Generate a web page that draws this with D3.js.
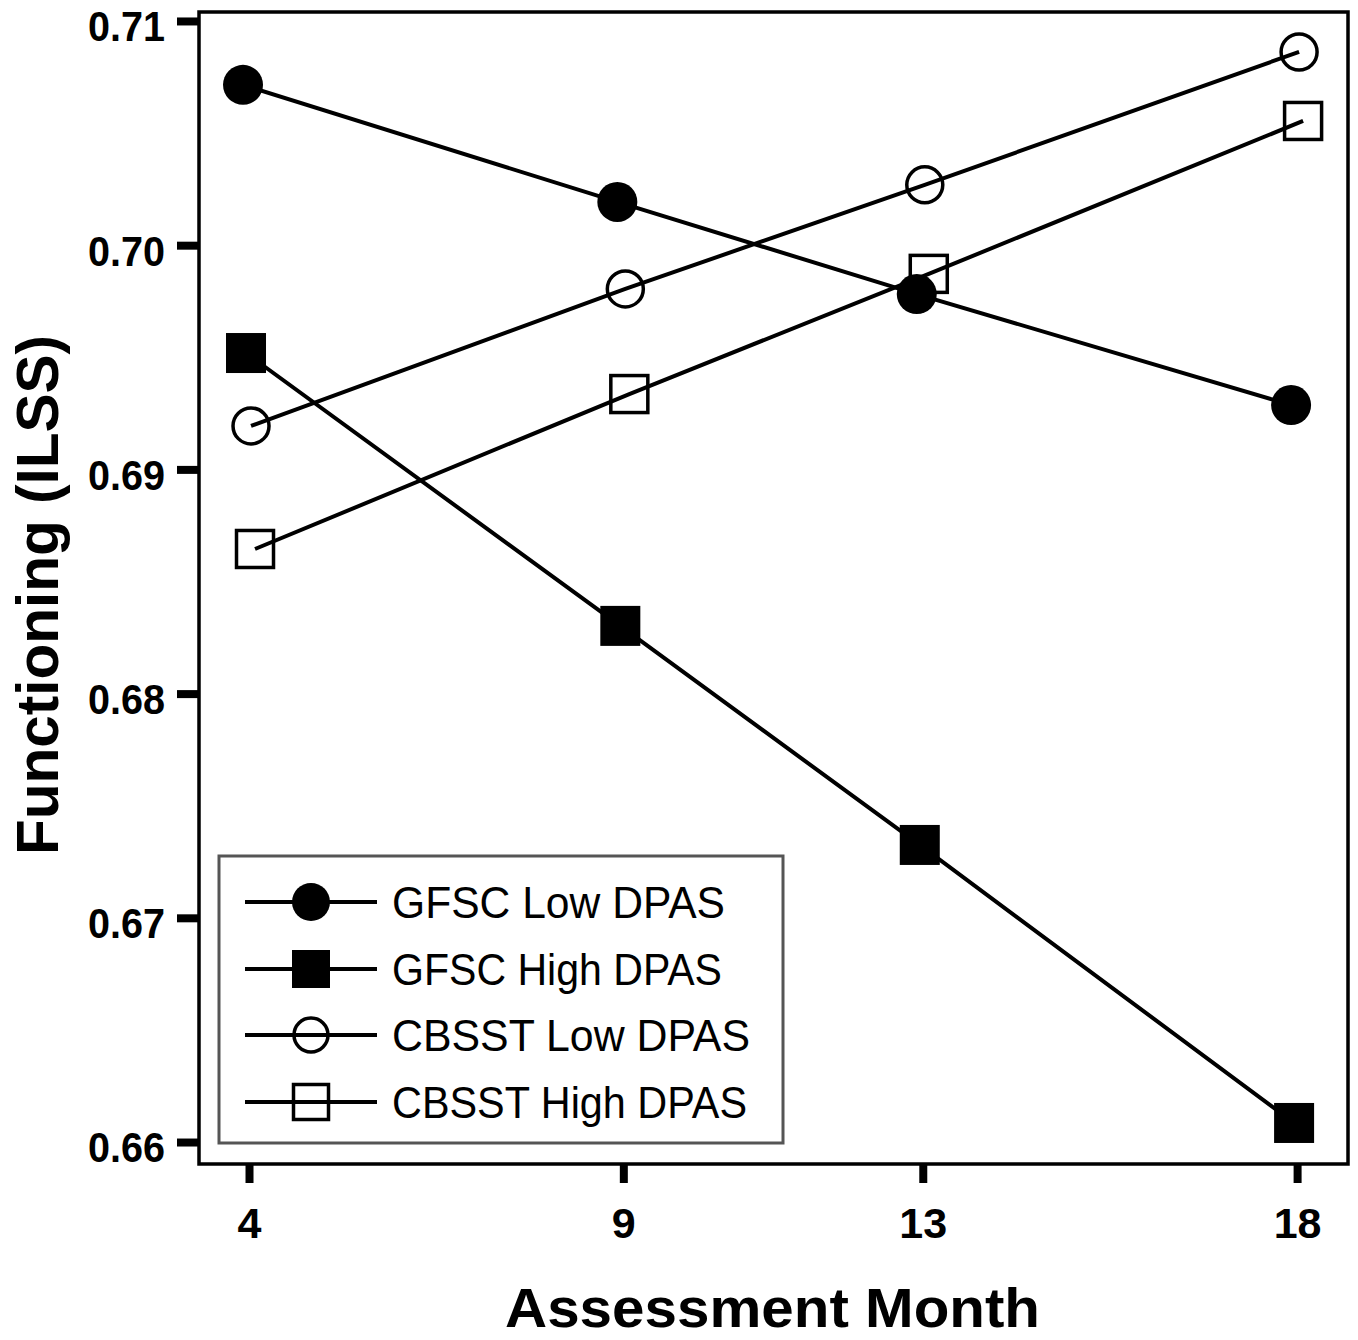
<!DOCTYPE html>
<html>
<head>
<meta charset="utf-8">
<script src="https://cdn.jsdelivr.net/npm/d3@7"></script>
<style>
  html, body { margin: 0; padding: 0; background: #fff; }
  svg { display: block; }
</style>
</head>
<body>
<svg id="chart" width="1358" height="1340"></svg>
<script>
// ---- data ----
const months = [4, 9, 13, 18];
const yTicks = [0.66, 0.67, 0.68, 0.69, 0.70, 0.71];
const seriesNames = ["GFSC Low DPAS", "GFSC High DPAS", "CBSST Low DPAS", "CBSST High DPAS"];
const gfscLow   = [0.70715, 0.70193, 0.69782, 0.69287];
const gfscHigh  = [0.69519, 0.68302, 0.67325, 0.66085];
const cbsstLow  = [0.69194, 0.69805, 0.70269, 0.70862];
const cbsstHigh = [0.68645, 0.69336, 0.69872, 0.70554];
const xTitle = "Assessment Month";
const yTitle = "Functioning (ILSS)";

(function () {
// ---- styles ----
const seriesStyle = [
  { name: seriesNames[0], values: gfscLow,   shape: "circle", filled: true,  dodge: -6 },
  { name: seriesNames[1], values: gfscHigh,  shape: "square", filled: true,  dodge: -3 },
  { name: seriesNames[2], values: cbsstLow,  shape: "circle", filled: false, dodge: 2 },
  { name: seriesNames[3], values: cbsstHigh, shape: "square", filled: false, dodge: 6 }
];

const svg = d3.select("#chart");
const pLeft = 199, pRight = 1348, pTop = 12, pBottom = 1164;

const x = d3.scaleLinear().domain([3.332, 18.68]).range([pLeft, pRight]);
const y = d3.scaleLinear().domain([0.65902, 0.7104]).range([pBottom, pTop]);

// frame
svg.append("rect")
  .attr("x", pLeft).attr("y", pTop)
  .attr("width", pRight - pLeft).attr("height", pBottom - pTop)
  .attr("fill", "none").attr("stroke", "#000").attr("stroke-width", 3.5);

// y axis
const yAxis = svg.append("g").attr("transform", `translate(${pLeft},0)`)
  .call(d3.axisLeft(y).tickValues(yTicks).tickFormat(d3.format(".2f")).tickSize(22).tickPadding(12));
yAxis.select(".domain").remove();
yAxis.selectAll(".tick line").attr("stroke", "#000").attr("stroke-width", 8);
yAxis.selectAll(".tick text")
  .attr("font-family", "Liberation Sans, Arial, sans-serif")
  .attr("font-weight", "bold").attr("font-size", 43).attr("fill", "#000")
  .attr("dy", "0.72em").attr("y", -11)
  .attr("textLength", 77).attr("lengthAdjust", "spacingAndGlyphs");

// x axis
const xAxis = svg.append("g").attr("transform", `translate(0,${pBottom})`)
  .call(d3.axisBottom(x).tickValues(months).tickFormat(d3.format("d")).tickSize(19).tickPadding(24));
xAxis.select(".domain").remove();
xAxis.selectAll(".tick line").attr("stroke", "#000").attr("stroke-width", 8);
xAxis.selectAll(".tick text")
  .attr("font-family", "Liberation Sans, Arial, sans-serif")
  .attr("font-weight", "bold").attr("font-size", 43).attr("fill", "#000");

// axis titles
svg.append("text")
  .attr("x", (pLeft + pRight) / 2 - 1).attr("y", 1327)
  .attr("text-anchor", "middle")
  .attr("font-family", "Liberation Sans, Arial, sans-serif")
  .attr("font-weight", "bold").attr("font-size", 55).attr("fill", "#000")
  .attr("textLength", 535).attr("lengthAdjust", "spacingAndGlyphs")
  .text(xTitle);

svg.append("text")
  .attr("transform", `translate(58,595) rotate(-90)`)
  .attr("text-anchor", "middle")
  .attr("font-family", "Liberation Sans, Arial, sans-serif")
  .attr("font-weight", "bold").attr("font-size", 60).attr("fill", "#000")
  .attr("textLength", 520).attr("lengthAdjust", "spacingAndGlyphs")
  .text(yTitle);

// marker drawing helper
function drawMarker(g, s, cx, cy, size) {
  if (s.shape === "circle") {
    g.append("circle").attr("cx", cx).attr("cy", cy)
      .attr("r", s.filled ? size / 2 : size / 2 - 2)
      .attr("fill", s.filled ? "#000" : "none")
      .attr("stroke", "#000").attr("stroke-width", s.filled ? 0 : 3.5);
  } else {
    const w = s.filled ? size : size - 3;
    g.append("rect").attr("x", cx - w / 2).attr("y", cy - w / 2)
      .attr("width", w).attr("height", w)
      .attr("fill", s.filled ? "#000" : "none")
      .attr("stroke", "#000").attr("stroke-width", s.filled ? 0 : 3.5);
  }
}

// lines (draw open series first, filled on top)
const drawOrder = [3, 2, 1, 0];
const lineGen = (s) => d3.line()
  .x((d, i) => x(months[i]) + s.dodge)
  .y(d => y(d));

drawOrder.forEach(k => {
  const s = seriesStyle[k];
  svg.append("path")
    .datum(s.values)
    .attr("d", lineGen(s))
    .attr("fill", "none").attr("stroke", "#000").attr("stroke-width", 4);
});
drawOrder.forEach(k => {
  const s = seriesStyle[k];
  const g = svg.append("g");
  s.values.forEach((v, i) => drawMarker(g, s, x(months[i]) + s.dodge, y(v), 40));
});

// legend
const lg = svg.append("g");
lg.append("rect")
  .attr("x", 219).attr("y", 856).attr("width", 564).attr("height", 287)
  .attr("fill", "#fff").attr("stroke", "#555").attr("stroke-width", 3);
const legendRows = [902, 969, 1035, 1102];
const legendLen = [333, 330, 358, 355];
seriesStyle.forEach((s, i) => {
  const ly = legendRows[i];
  lg.append("line").attr("x1", 245).attr("x2", 377).attr("y1", ly).attr("y2", ly)
    .attr("stroke", "#000").attr("stroke-width", 4);
  drawMarker(lg, s, 311, ly, 38);
  lg.append("text")
    .attr("x", 392).attr("y", ly + 16)
    .attr("font-family", "Liberation Sans, Arial, sans-serif")
    .attr("font-size", 44).attr("fill", "#000")
    .attr("textLength", legendLen[i]).attr("lengthAdjust", "spacingAndGlyphs")
    .text(s.name);
});
})();
</script>
</body>
</html>
